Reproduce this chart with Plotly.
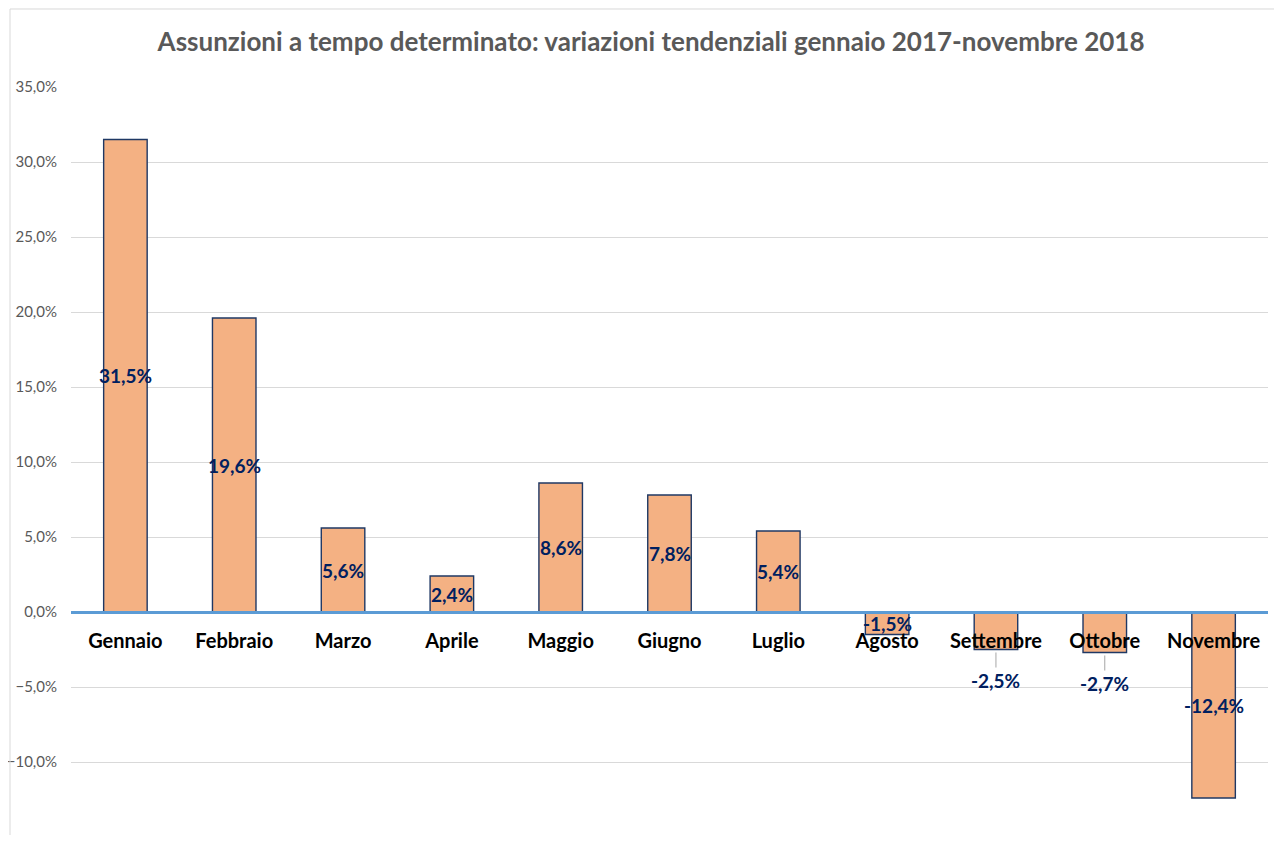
import plotly.graph_objects as go

months = ["Gennaio", "Febbraio", "Marzo", "Aprile", "Maggio", "Giugno",
          "Luglio", "Agosto", "Settembre", "Ottobre", "Novembre"]
values = [31.5, 19.6, 5.6, 2.4, 8.6, 7.8, 5.4, -1.5, -2.5, -2.7, -12.4]
labels = ["31,5%", "19,6%", "5,6%", "2,4%", "8,6%", "7,8%", "5,4%",
          "-1,5%", "-2,5%", "-2,7%", "-12,4%"]
leader_months = ["Settembre", "Ottobre"]

title = "Assunzioni a tempo determinato: variazioni tendenziali gennaio 2017-novembre 2018"
FONT = "Lato"

y_lo, y_hi = -14.867, 35.0
zero_pos = (0 - y_lo) / (y_hi - y_lo)

fig = go.Figure()
fig.add_trace(go.Bar(
    x=months, y=values,
    marker=dict(color="#F4B183", line=dict(color="#1F3864", width=1.4)),
    hoverinfo="skip",
))

annotations = []
for m, v, lab in zip(months, values, labels):
    if m in leader_months:
        annotations.append(dict(
            x=m, y=v, xref="x", yref="y", text=f"<b>{lab}</b>",
            showarrow=True, arrowhead=0, arrowwidth=1, arrowcolor="#A6A6A6",
            ax=0, ay=31, standoff=3,
            font=dict(family=FONT, size=19, color="#002060"),
        ))
    else:
        annotations.append(dict(
            x=m, y=v / 2, xref="x", yref="y", text=f"<b>{lab}</b>",
            showarrow=False,
            font=dict(family=FONT, size=19, color="#002060"),
        ))

fig.update_layout(
    width=1266, height=827,
    margin=dict(l=63, r=6, t=79, b=0),
    paper_bgcolor="white", plot_bgcolor="white",
    separators=",.",
    showlegend=False,
    bargap=0.6,
    title=dict(text=f"<b>{title}</b>", x=0.4846, xref="paper", xanchor="center",
               y=1 - 34 / 827, yanchor="middle",
               font=dict(family=FONT, size=26, color="#595959")),
    font=dict(family=FONT),
    xaxis=dict(
        anchor="free", position=zero_pos,
        showline=True, linecolor="#5B9BD5", linewidth=3,
        showgrid=False, zeroline=False,
        ticks="outside", ticklen=10, tickcolor="rgba(0,0,0,0)",
        tickfont=dict(family=FONT, size=20, color="#000000"),
        tickprefix="<b>", ticksuffix="</b>",
    ),
    yaxis=dict(
        range=[y_lo, y_hi], dtick=5, tick0=0,
        tickformat=".1f", ticksuffix="%",
        showgrid=True, gridcolor="#D9D9D9", gridwidth=1,
        zeroline=False, showline=False,
        ticks="outside", ticklen=10, tickcolor="rgba(0,0,0,0)",
        tickfont=dict(family=FONT, size=15, color="#595959"),
    ),
    annotations=annotations,
    shapes=[
        dict(type="line", xref="paper", yref="paper",
             x0=-0.05096, x1=-0.05096, y0=-0.2, y1=1.10428,
             line=dict(color="#D9D9D9", width=1)),
        dict(type="line", xref="paper", yref="paper",
             x0=-0.05096, x1=1.2, y0=1.10428, y1=1.10428,
             line=dict(color="#D9D9D9", width=1)),
    ],
)

fig.write_html("out.html")
